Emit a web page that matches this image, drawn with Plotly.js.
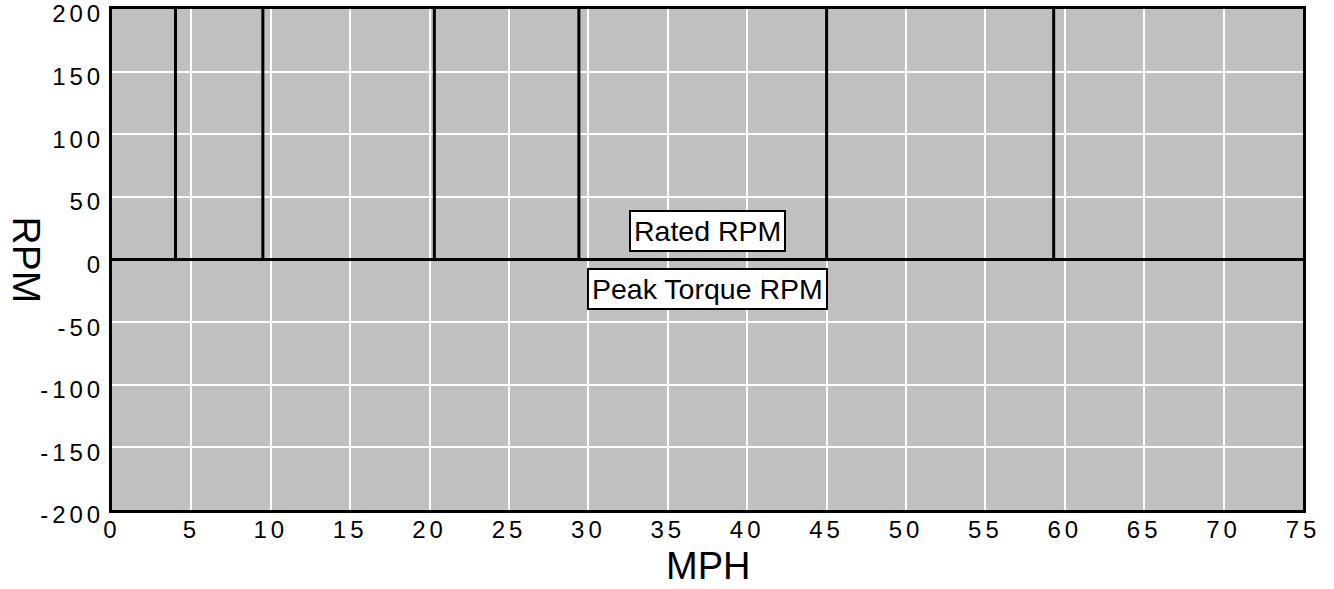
<!DOCTYPE html>
<html>
<head>
<meta charset="utf-8">
<script src="https://cdn.plot.ly/plotly-3.0.1.min.js"></script>
<style>
html, body { margin: 0; padding: 0; background: #fff; }
#chart { width: 1334px; height: 589px; }
.xtick text, .ytick text { letter-spacing: 4px; }
</style>
</head>
<body>
<div id="chart"></div>
<script>
// Data
var shiftMph = [4.0, 9.5, 20.3, 29.4, 45.0, 59.3];   // vertical marker lines (MPH)
var lineBottomRpm = 0;
var lineTopRpm = 200;
var xTickVals = [0, 5, 10, 15, 20, 25, 30, 35, 40, 45, 50, 55, 60, 65, 70, 75];
var yTickVals = [-200, -150, -100, -50, 0, 50, 100, 150, 200];
var labelNames = ["Rated RPM", "Peak Torque RPM"];
var labelMph = [37.5, 37.5];
var labelRpm = [22.7, -23.5];

var FONT = "Liberation Sans, Arial, Helvetica, sans-serif";

var traces = shiftMph.map(function (m) {
  return {
    type: "scatter",
    mode: "lines",
    x: [m, m],
    y: [lineBottomRpm, lineTopRpm],
    line: { color: "#000", width: 3 },
    hoverinfo: "skip",
    showlegend: false
  };
});

var annotations = labelNames.map(function (t, i) {
  return {
    x: labelMph[i], y: labelRpm[i], xref: "x", yref: "y",
    text: t, showarrow: false,
    font: { family: FONT, size: 28.5, color: "#000" },
    bgcolor: "#fff", bordercolor: "#000", borderwidth: 2, borderpad: 3
  };
});
annotations.push({
  x: 0, y: 0.5, xref: "paper", yref: "paper",
  xanchor: "center", yanchor: "middle",
  xshift: -86,
  text: "RPM", showarrow: false, textangle: 90,
  font: { family: FONT, size: 39, color: "#000" }
});
annotations.push({
  x: 0.5, y: 0, xref: "paper", yref: "paper",
  xanchor: "center", yanchor: "middle",
  yshift: -56, borderpad: 0,
  text: "MPH", showarrow: false,
  font: { family: FONT, size: 38, color: "#000" }
});

var layout = {
  width: 1334, height: 589,
  margin: { l: 112, r: 31, t: 9, b: 79, pad: 0 },
  paper_bgcolor: "#fff",
  plot_bgcolor: "#c0c0c0",
  showlegend: false,
  font: { family: FONT, color: "#000" },
  xaxis: {
    range: [0, 75],
    tickvals: xTickVals,
    ticktext: xTickVals.map(String),
    showgrid: true, gridcolor: "#fff", gridwidth: 2,
    zeroline: false,
    showline: true, linecolor: "#000", linewidth: 3, mirror: true,
    ticks: "", ticklabelstandoff: -4,
    tickfont: { family: FONT, size: 24, color: "#000" }
  },
  yaxis: {
    range: [-200, 200],
    tickvals: yTickVals,
    ticktext: yTickVals.map(String),
    showgrid: true, gridcolor: "#fff", gridwidth: 2,
    zeroline: true, zerolinecolor: "#000", zerolinewidth: 3,
    showline: true, linecolor: "#000", linewidth: 3, mirror: true,
    ticks: "", ticklabelstandoff: 0, ticklabelshift: 5,
    tickfont: { family: FONT, size: 24, color: "#000" }
  },
  annotations: annotations
};

Plotly.newPlot("chart", traces, layout, { displayModeBar: false, staticPlot: true });
</script>
</body>
</html>
